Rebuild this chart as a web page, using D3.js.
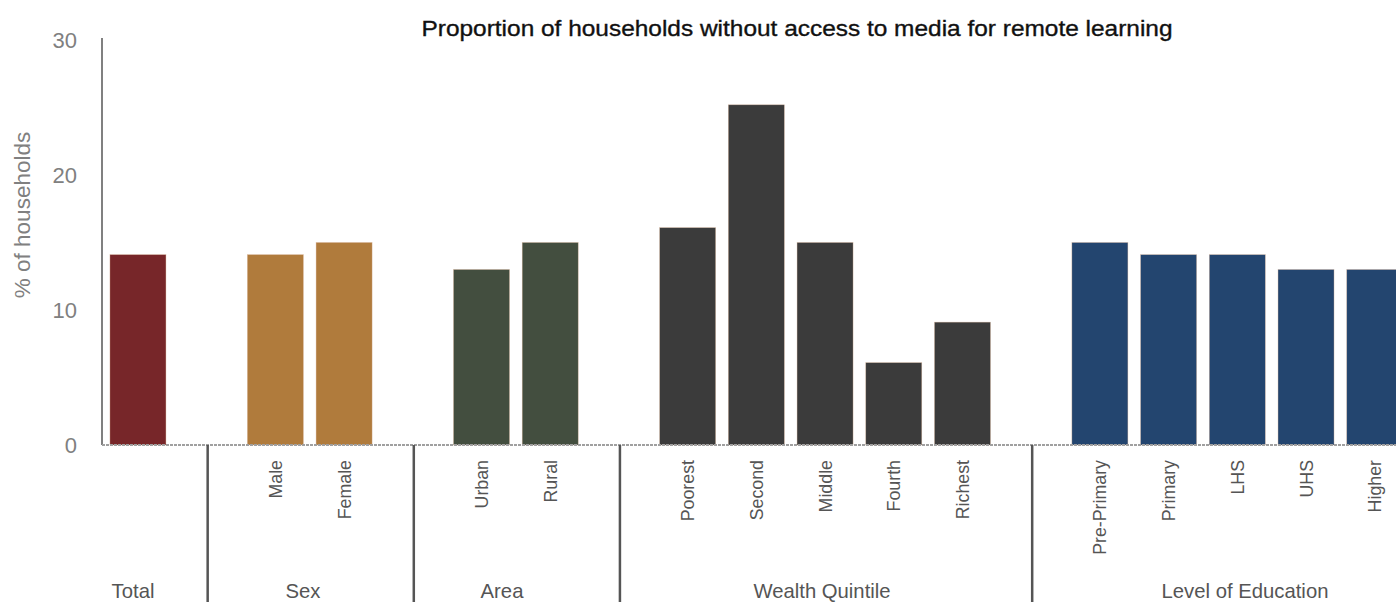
<!DOCTYPE html>
<html>
<head>
<meta charset="utf-8">
<script src="https://cdn.jsdelivr.net/npm/d3@7"></script>
<style>
  body { margin: 0; background: #fff; }
  svg { display: block; font-family: "Liberation Sans", Arial, sans-serif; }
</style>
</head>
<body>
<svg width="1396" height="602"></svg>
<script>
// data
const groups = ["Total", "Sex", "Area", "Wealth Quintile", "Level of Education"];
const groupColors = ["#772629", "#b07b3c", "#434e3f", "#3b3b3b", "#23456f"];
const categories = [
  ["Total"],
  ["Male", "Female"],
  ["Urban", "Rural"],
  ["Poorest", "Second", "Middle", "Fourth", "Richest"],
  ["Pre-Primary", "Primary", "LHS", "UHS", "Higher"]
];
const values = [
  [14.1],
  [14.1, 15.0],
  [13.0, 15.0],
  [16.1, 25.2, 15.0, 6.1, 9.1],
  [15.0, 14.1, 14.1, 13.0, 13.0]
];
const yTicks = [0, 10, 20, 30];

const svg = d3.select("svg"),
    width = +svg.attr("width"),
    height = +svg.attr("height");

// build slots: one empty gap slot between groups
const slots = [];
const rows = [];
categories.forEach((cats, g) => {
  if (g > 0) slots.push("gap" + g);
  cats.forEach((c, i) => {
    slots.push(c);
    rows.push({ name: c, value: values[g][i], group: g });
  });
});

const x0 = 103.6, step = 68.71;
const x = d3.scaleBand()
    .domain(slots)
    .range([x0, x0 + step * slots.length])
    .paddingInner(0.185)
    .paddingOuter(0.0925);

const y = d3.scaleLinear().domain([0, 30]).range([445, 40]);

// title
svg.append("text")
    .attr("x", 797)
    .attr("y", 36)
    .attr("text-anchor", "middle")
    .attr("font-size", 22)
    .attr("fill", "#111")
    .attr("stroke", "#111")
    .attr("stroke-width", 0.35)
    .attr("textLength", 751)
    .attr("lengthAdjust", "spacingAndGlyphs")
    .text("Proportion of households without access to media for remote learning");

// y axis
const yAxis = svg.append("g")
    .attr("transform", "translate(102,0)")
    .call(d3.axisLeft(y).tickValues(yTicks).tickSize(0).tickPadding(25));
yAxis.select(".domain").attr("stroke", "#808080").attr("stroke-width", 2)
    .attr("d", `M0,${y(30) - 2}V${y(0)}`);
yAxis.selectAll("text")
    .attr("font-size", 22)
    .attr("fill", "#808080")
    .attr("font-family", "Liberation Sans, Arial, sans-serif");

svg.append("text")
    .attr("transform", `translate(30,${215}) rotate(-90)`)
    .attr("text-anchor", "middle")
    .attr("font-size", 22.5)
    .attr("fill", "#808080")
    .text("% of households");

// bars
svg.append("g")
  .selectAll("rect")
  .data(rows)
  .enter().append("rect")
    .attr("x", d => x(d.name))
    .attr("y", d => y(d.value))
    .attr("width", x.bandwidth())
    .attr("height", d => y(0) - y(d.value))
    .attr("fill", d => groupColors[d.group])
    .attr("stroke", "#d9b49a")
    .attr("stroke-width", 0.6)
    .attr("stroke-opacity", 0.6);

// baseline
svg.append("line")
    .attr("x1", 102).attr("x2", width)
    .attr("y1", y(0)).attr("y2", y(0))
    .attr("stroke", "#a0a0a0")
    .attr("stroke-width", 2)
    .attr("stroke-dasharray", "3,1");

// category labels (rotated)
svg.append("g")
  .selectAll("text")
  .data(rows.filter(d => d.group > 0))
  .enter().append("text")
    .attr("transform", d => `translate(${x(d.name) + x.bandwidth() / 2 + 6.5},460) rotate(-90)`)
    .attr("text-anchor", "end")
    .attr("font-size", 17.8)
    .attr("fill", "#555")
    .text(d => d.name);

// group separators and labels
const sepX = slots.filter(s => s.startsWith("gap"))
    .map(s => x(s) + x.bandwidth() / 2 + 1);
svg.append("g")
  .selectAll("line")
  .data(sepX)
  .enter().append("line")
    .attr("x1", d => d).attr("x2", d => d)
    .attr("y1", y(0)).attr("y2", height)
    .attr("stroke", "#555")
    .attr("stroke-width", 2.5);

const groupCenters = [133, 303, 502, 822, 1245];
svg.append("g")
  .selectAll("text")
  .data(groups)
  .enter().append("text")
    .attr("x", (d, i) => groupCenters[i])
    .attr("y", 598)
    .attr("text-anchor", "middle")
    .attr("font-size", 20.3)
    .attr("fill", "#555")
    .text(d => d);
</script>
</body>
</html>
